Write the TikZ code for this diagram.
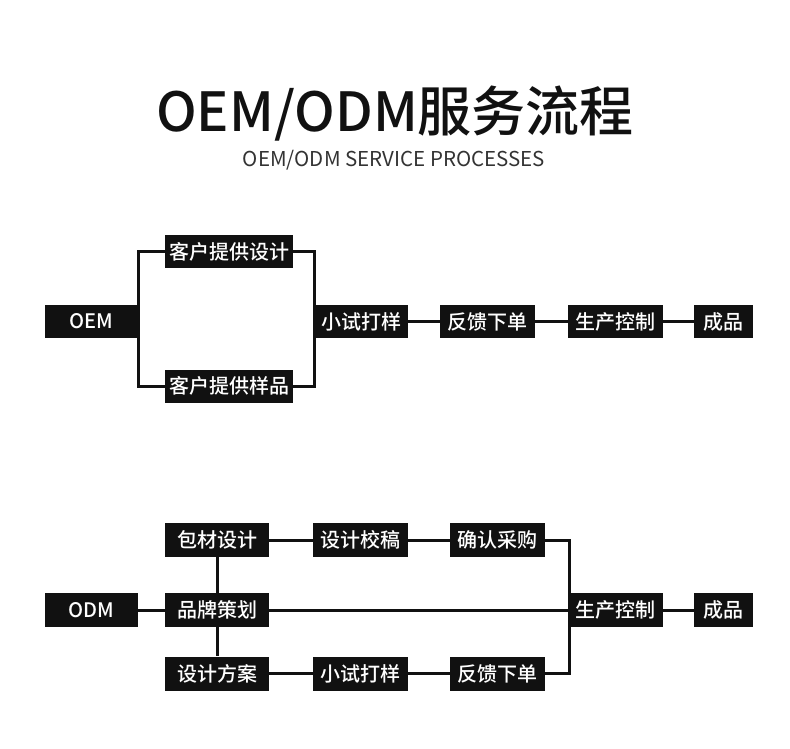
\documentclass[tikz,border=0pt]{standalone}
\usepackage{fontspec}
\setmainfont{Noto Sans CJK SC}
\newfontfamily\medf{Noto Sans CJK SC}[UprightFont=* Medium]
\definecolor{boxc}{HTML}{111111}
\definecolor{subc}{HTML}{333333}
\begin{document}
\begin{tikzpicture}[x=1pt,y=-1pt,
  bx/.style={fill=boxc,text=white,inner sep=0pt,minimum height=33pt,font=\medf\fontsize{20}{20}\selectfont},
  ln/.style={line width=3pt,draw=boxc}]
\useasboundingbox (0,0) rectangle (790,748);
\node[font=\medf\fontsize{54}{54}\selectfont, text=boxc] (title) at (395,114) {OEM/ODM服务流程};
\node[font=\fontsize{20.5}{20.5}\selectfont, text=subc] (sub) at (394,160) {OEM/ODM SERVICE PROCESSES};
% OEM
\node[bx,minimum width=93pt] (oem) at (91.5,321.5) {OEM};
\node[bx,minimum width=128pt] (d1) at (229,251.5) {客户提供设计};
\node[bx,minimum width=128pt] (d2) at (229,386) {客户提供样品};
\node[bx,minimum width=93pt] (t1) at (361.5,321.5) {小试打样};
\node[bx,minimum width=95pt] (f1) at (487.5,321.5) {反馈下单};
\node[bx,minimum width=95pt] (p1) at (615.5,321.5) {生产控制};
\node[bx,minimum width=59pt] (c1) at (723.5,321.5) {成品};
\draw[ln] (d1.west) -- (d1.west -| oem.east) -- (d2.west -| oem.east) -- (d2.west);
\draw[ln] (d1.east) -- (d1.east -| t1.west) -- (d2.east -| t1.west) -- (d2.east);
\draw[ln] (t1) -- (f1);
\draw[ln] (f1) -- (p1);
\draw[ln] (p1) -- (c1);
% ODM
\node[bx,minimum width=93pt,minimum height=34pt] (odm) at (91.5,610) {ODM};
\node[bx,minimum width=104pt,minimum height=34pt] (bc) at (217,540) {包材设计};
\node[bx,minimum width=104pt,minimum height=34pt] (pp) at (217,610) {品牌策划};
\node[bx,minimum width=104pt,minimum height=34pt] (fa) at (217,673.5) {设计方案};
\node[bx,minimum width=95pt,minimum height=34pt] (jg) at (360.5,540) {设计校稿};
\node[bx,minimum width=95pt,minimum height=34pt] (t2) at (360.5,673.5) {小试打样};
\node[bx,minimum width=95pt,minimum height=34pt] (qr) at (497.5,540) {确认采购};
\node[bx,minimum width=95pt,minimum height=34pt] (f2) at (497.5,673.5) {反馈下单};
\node[bx,minimum width=95pt,minimum height=34pt] (p2) at (615.5,610) {生产控制};
\node[bx,minimum width=59pt,minimum height=34pt] (c2) at (723.5,610) {成品};
\draw[ln] (odm) -- (pp);
\draw[ln] (bc) -- (pp);
\draw[ln] (pp) -- (fa);
\draw[ln] (bc) -- (jg);
\draw[ln] (jg) -- (qr);
\draw[ln] (fa) -- (t2);
\draw[ln] (t2) -- (f2);
\draw[ln] (pp) -- (p2);
\draw[ln] (p2) -- (c2);
\coordinate (rx) at ([xshift=2pt]p2.west);
\draw[ln] (qr.east) -- (qr.east -| rx) -- (f2.east -| rx) -- (f2.east);
\end{tikzpicture}
\end{document}
